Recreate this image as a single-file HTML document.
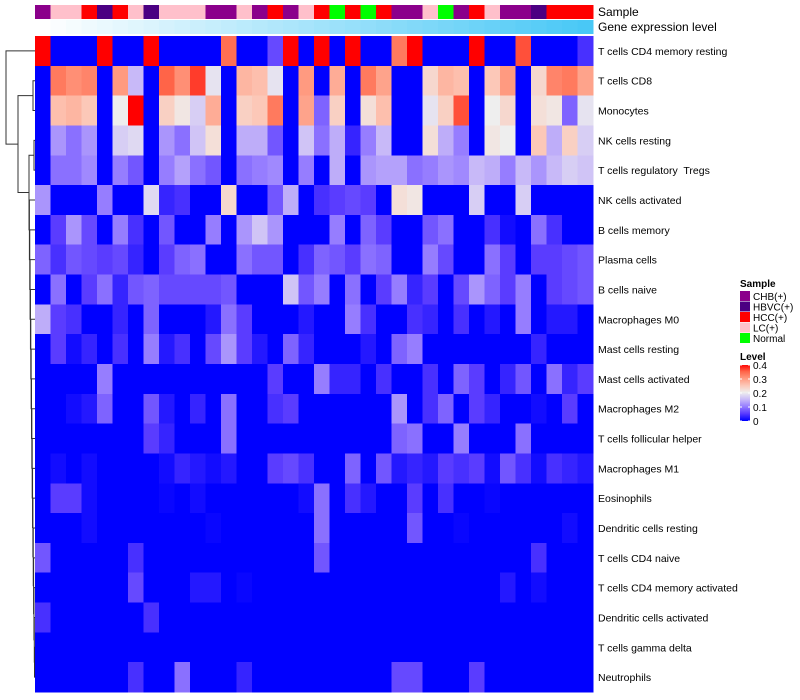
<!DOCTYPE html>
<html><head><meta charset="utf-8"><style>
html,body{margin:0;padding:0;background:#fff;width:800px;height:700px;overflow:hidden}
svg{display:block;font-family:"Liberation Sans",Arial,sans-serif}
text{white-space:pre}
</style></head><body>
<svg id="chart" width="800" height="700" viewBox="0 0 800 700" shape-rendering="crispEdges"></svg>
<script>
const rowNames=["T cells CD4 memory resting","T cells CD8","Monocytes","NK cells resting","T cells regulatory  Tregs","NK cells activated","B cells memory","Plasma cells","B cells naive","Macrophages M0","Mast cells resting","Mast cells activated","Macrophages M2","T cells follicular helper","Macrophages M1","Eosinophils","Dendritic cells resting","T cells CD4 naive","T cells CD4 memory activated","Dendritic cells activated","T cells gamma delta","Neutrophils"];
const sampleGroups=["CHB","LC","LC","HCC","HBVC","HCC","LC","HBVC","LC","LC","LC","CHB","CHB","LC","CHB","HCC","CHB","LC","HCC","Normal","HCC","Normal","HCC","CHB","CHB","LC","Normal","CHB","HCC","LC","CHB","CHB","HBVC","HCC","HCC","HCC"];
const legendGroups=["CHB","HBVC","HCC","LC","Normal"];
const legendLabels=["CHB(+)","HBVC(+)","HCC(+)","LC(+)","Normal"];
const levelTicks=[0,0.1,0.2,0.3,0.4];
const r0=[.4,0,0,0,.4,0,0,.4,0,0,0,0,.34,0,0,.06,.4,0,.4,0,.4,0,0,.33,.4,0,0,0,.4,0,0,.36,0,0,0,.04];
const r1=[0,.33,.31,.32,0,.3,.15,0,.35,.31,.37,.19,0,.27,.26,.19,0,.3,0,.28,0,.33,.29,0,0,.23,.27,.26,0,.25,.3,0,.23,.32,.33,.29];
const r2=[0,.26,.27,.25,0,.2,.4,0,.24,.21,.17,.28,0,.24,.25,.33,0,.29,.08,.24,0,.22,.26,0,0,.19,.24,.36,0,.2,.23,0,.22,.21,.08,.19];
const r3=[0,.12,.09,.12,0,.17,.18,0,.12,.09,.16,.22,0,.14,.14,.07,0,.16,.09,.14,.03,.1,.15,0,0,.22,.14,.1,0,.21,.2,0,.25,.14,.24,.17];
const r4=[0,.09,.09,.11,0,.1,.07,0,.1,.13,.09,.07,0,.09,.1,.11,0,.1,0,.14,0,.12,.13,.13,.09,.1,.12,.11,.15,.14,.1,.15,.12,.15,.17,.16];
const r5=[.12,0,0,0,.1,0,0,.18,.03,.04,0,0,.23,0,0,.07,.14,0,.04,.05,.06,.05,0,.22,.21,0,0,0,.17,0,0,.17,0,0,0,0];
const r6=[0,.05,.12,.06,0,.1,.04,0,.07,0,0,.1,0,.12,.16,.12,0,0,0,.1,0,.08,.05,0,0,.07,.09,0,0,.04,.01,0,.09,.04,0,0];
const r7=[.08,.04,.07,.06,.05,.06,.03,0,.05,.08,.09,0,0,.09,.07,.07,0,.04,.08,.07,.05,.09,.08,0,0,.1,.06,0,0,.09,.05,0,.05,.05,.06,.07];
const r8=[0,.09,0,.05,.09,.03,.07,.08,.06,.06,.06,.06,.07,0,0,0,.16,.07,.1,0,.09,0,.05,.1,.03,.05,0,.06,.12,.08,.05,.1,0,.05,.06,.07];
const r9=[.14,.05,.04,0,0,.03,0,.08,0,0,0,.02,.09,.05,0,0,0,.02,0,0,.1,.04,0,0,.04,.03,0,.04,0,.02,0,.1,0,.02,.02,0];
const r10=[0,.05,.01,.03,0,.04,0,.1,.02,.04,0,.06,.12,.05,.02,0,.08,.03,0,0,0,.02,0,.08,.1,0,0,0,0,0,0,0,.03,0,0,0];
const r11=[0,0,0,0,.1,0,0,0,0,0,0,0,0,0,0,.05,0,0,.1,.03,.03,0,.04,0,0,.04,0,.08,.05,0,.03,.07,0,.09,.03,.05];
const r12=[0,0,.01,.02,.08,0,0,.07,.02,0,.03,0,.09,0,0,.04,.05,0,0,0,0,0,0,.12,0,.04,.08,0,.05,.03,0,0,.01,0,.05,0];
const r13=[0,0,0,0,0,0,0,.05,.03,0,0,0,.09,0,0,0,0,0,0,0,0,0,0,.08,.09,0,0,.1,0,0,0,.09,0,0,0,0];
const r14=[0,.01,0,.01,0,0,0,0,.01,.03,.02,.01,.02,0,0,.05,.06,.04,0,0,.08,0,.07,.02,.03,.02,.05,.04,.05,.01,.07,.04,.01,.04,.03,.02];
const r15=[0,.05,.05,.01,0,0,0,0,.005,0,.01,0,0,0,0,0,0,.01,.09,0,.04,.02,0,0,.05,0,.04,0,0,.005,0,0,0,0,0,0];
const r16=[0,0,0,.01,0,0,0,0,0,0,0,.005,0,0,0,0,0,0,.09,0,0,0,0,0,.07,0,0,.005,0,0,0,0,0,0,.01,0];
const r17=[.07,0,0,0,0,0,.04,0,0,0,0,0,0,0,0,0,0,0,.07,0,0,0,0,0,0,0,0,0,0,0,0,0,.04,0,0,0];
const r18=[0,0,0,0,0,0,.06,0,0,0,.02,.02,0,.005,0,0,0,0,0,0,0,0,0,0,0,0,0,0,0,0,.02,0,.01,0,0,0];
const r19=[.04,0,0,0,0,0,0,.04,0,0,0,0,0,0,0,0,0,0,0,0,0,0,0,0,0,0,0,0,0,0,0,0,0,0,0,0];
const r20=[0,0,0,0,0,0,0,0,0,0,0,0,0,0,0,0,0,0,0,0,0,0,0,0,0,0,0,0,0,0,0,0,0,0,0,0];
const r21=[0,0,0,0,0,0,.04,0,0,.09,0,0,0,.03,0,0,0,0,0,0,0,0,0,.06,.06,0,0,0,.05,0,0,0,0,0,0,0];
const values=[r0,r1,r2,r3,r4,r5,r6,r7,r8,r9,r10,r11,r12,r13,r14,r15,r16,r17,r18,r19,r20,r21];

const groupColor={CHB:"#8B008B",HBVC:"#4B0082",HCC:"#FF0000",LC:"#FFC0CB",Normal:"#00FF00"};
const stops=[[0,[0,0,255]],[.05,[90,60,255]],[.1,[150,125,255]],[.15,[200,185,248]],[.2,[238,238,238]],[.25,[252,200,184]],[.3,[255,154,128]],[.35,[255,100,72]],[.4,[255,0,0]]];
function colorOf(v){v=Math.max(0,Math.min(.4,v));for(let i=1;i<stops.length;i++){if(v<=stops[i][0]){const a=stops[i-1],b=stops[i],t=(v-a[0])/(b[0]-a[0]);const c=a[1].map((x,k)=>Math.round(x+(b[1][k]-x)*t));return `rgb(${c})`;}}return "rgb(255,0,0)";}
const NS="http://www.w3.org/2000/svg",svg=document.getElementById("chart");
function el(tag,attrs,parent){const e=document.createElementNS(NS,tag);for(const k in attrs)e.setAttribute(k,attrs[k]);(parent||svg).appendChild(e);return e;}
const X0=35,X1=593,Y0=36,Y1=692;
const nC=sampleGroups.length,nR=values.length,cw=(X1-X0)/nC,rh=(Y1-Y0)/nR;
const xPos=i=>X0+i*cw, yPos=r=>Y0+r*rh;
const levelY=v=>421-(v/0.4)*56;

for(let i=0;i<nC;i++){
  const s=el("rect",{x:xPos(i),y:5,width:cw+0.3,height:14,fill:groupColor[sampleGroups[i]]});
  
  
  const t=i/(nC-1);
  const g=el("rect",{x:xPos(i),y:20,width:cw+0.3,height:14,fill:`rgb(${Math.round(255-182*t)},${Math.round(255-55*t)},${Math.round(255-9*t)})`});
  
  
}
for(let r=0;r<nR;r++)for(let i=0;i<nC;i++){
  const c=el("rect",{x:xPos(i),y:yPos(r),width:cw+0.3,height:rh+0.3,fill:colorOf(values[r][i])});
  
  
}
el("text",{x:598,y:16,"font-size":12,fill:"#000"}).textContent="Sample";
el("text",{x:598,y:31,"font-size":12,fill:"#000"}).textContent="Gene expression level";
for(let r=0;r<nR;r++){
  const t=el("text",{x:598,y:yPos(r)+rh/2+4,"font-size":10.5,fill:"#000"});
  t.textContent=rowNames[r];
  
  
}
const yc=r=>yPos(r)+rh/2;
const dg=el("g",{stroke:"#333","stroke-width":1,fill:"none","shape-rendering":"auto"});


function join(xl,ya,xa,yb,xb){el("path",{d:`M${xa},${ya}H${xl}V${yb}H${xb}`},dg);}
join(33,yc(1),35,yc(2),35);
join(34,yc(3),35,yc(4),35);
let prevY, prevX; join(34.5,yc(20),35,yc(21),35); prevY=(yc(20)+yc(21))/2; prevX=34.5;
for(let r=19;r>=5;r--){const nx=34.3-(19-r)*0.35;join(nx,yc(r),35,prevY,prevX);prevY=(yc(r)+prevY)/2;prevX=nx;}
join(29,(yc(3)+yc(4))/2,34,prevY,prevX); const dY=((yc(3)+yc(4))/2+prevY)/2;
join(18,(yc(1)+yc(2))/2,33,dY,29); const cY=((yc(1)+yc(2))/2+dY)/2;
join(6,yc(0),35,cY,18);
const lg=el("g",{});


el("text",{x:740,y:287,"font-size":10,"font-weight":"bold"},lg).textContent="Sample";
legendGroups.forEach((g,i)=>{
  const sw=el("rect",{x:740,y:291+i*10.5,width:10,height:10,fill:groupColor[g]},lg);
  
  
  el("text",{x:753,y:300+i*10.5,"font-size":10,fill:"#000"},lg).textContent=legendLabels[i];
});
el("text",{x:740,y:360,"font-size":10,"font-weight":"bold"},lg).textContent="Level";
for(let k=0;k<56;k++){const v=(k/56)*0.4;el("rect",{x:740,y:levelY(v)-1,width:10,height:1.2,fill:colorOf(v)},lg);}
levelTicks.forEach(v=>{
  el("line",{x1:740,x2:742,y1:levelY(v),y2:levelY(v),stroke:"#fff"},lg);
  el("line",{x1:748,x2:750,y1:levelY(v),y2:levelY(v),stroke:"#fff"},lg);
  el("text",{x:753,y:levelY(v)+4,"font-size":10,fill:"#000"},lg).textContent=String(v);
});
</script>
</body></html>
